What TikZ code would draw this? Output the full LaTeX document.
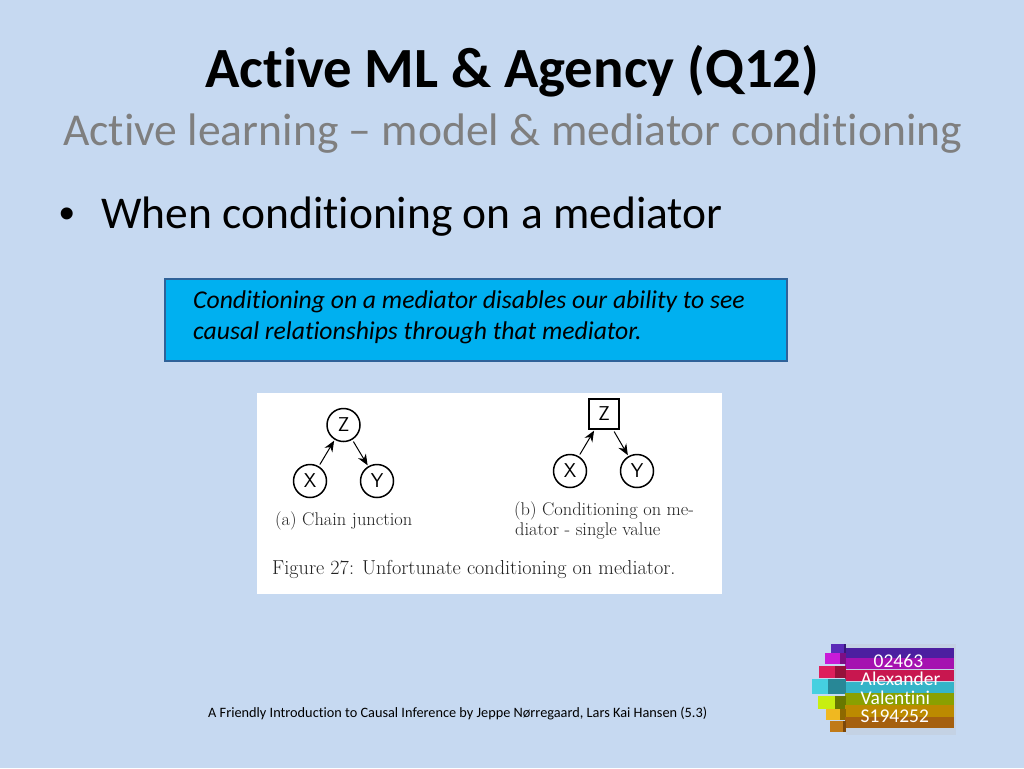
\documentclass[tikz,border=0pt]{standalone}
\usepackage{fontspec}
\setmainfont[RawFeature={-liga}]{Carlito}
\usepackage{xcolor}
\usetikzlibrary{arrows.meta}
\definecolor{slidebg}{HTML}{C6D9F1}
\definecolor{calloutfill}{HTML}{00B0F0}
\definecolor{calloutline}{HTML}{2F6299}
\definecolor{subgrey}{HTML}{7F7F7F}
\definecolor{figtext}{HTML}{222222}
\tikzset{
  slidetext/.style={inner sep=0pt,anchor=base west},
  causal/.style={circle,draw=black,line width=1.5pt,minimum size=33pt,inner sep=0pt,fill=white,font=\fontsize{20}{20}\sffamily},
  given/.style={rectangle,draw=black,line width=1.6pt,minimum size=30pt,inner sep=0pt,fill=white,font=\fontsize{20}{20}\sffamily},
  figlabel/.style={inner sep=0pt,anchor=base west,text=figtext,font=\fontsize{18.4}{18.4}\fontspec{Latin Modern Roman}},
  arc/.style={-{Stealth[length=11pt,width=9pt]},line width=1pt,black,shorten >=1pt,shorten <=2pt},
  logotext/.style={inner sep=0pt,anchor=base west,text=white,font=\fontsize{19.5}{19.5}\selectfont}
}
\begin{document}
\begin{tikzpicture}[x=1pt,y=-1pt]

  \fill[slidebg] (0,0) rectangle (1024,768);
  \useasboundingbox (0,0) rectangle (1024,768);

  % heading
  \node[slidetext,font=\fontsize{56.8}{56.8}\selectfont\bfseries] (title) at (205,87) {Active ML \& Agency (Q12)};
  \node[slidetext,font=\fontsize{45.6}{45.6}\selectfont,text=subgrey] (subtitle) at (63,145) {Active learning – model \& mediator conditioning};
  \node[slidetext,font=\fontsize{44}{44}\fontspec{Liberation Sans}] (bullet) at (59,228) {•};
  \node[slidetext,font=\fontsize{45.5}{45.5}\selectfont] (point) at (101,228) {When conditioning on a mediator};

  % callout
  \filldraw[fill=calloutfill,draw=calloutline,line width=2.2pt] (165,279) rectangle (787,361);
  \node[slidetext,font=\fontsize{25.65}{25.65}\selectfont\itshape] (line1) at (193,308) {Conditioning on a mediator disables our ability to see};
  \node[slidetext,font=\fontsize{25.65}{25.65}\selectfont\itshape] (line2) at (193,339) {causal relationships through that mediator.};

  % figure
  \fill[white] (257,393) rectangle (722,594);
  \node[causal] (za) at (343.5,425) {Z};
  \node[causal] (xa) at (310,481) {X};
  \node[causal] (ya) at (377,481) {Y};
  \draw[arc] (xa) -- (za);
  \draw[arc] (za) -- (ya);
  \node[figlabel] (capa) at (275,525) {(a) Chain junction};

  \node[given] (zb) at (604,414) {Z};
  \node[causal] (xb) at (570,471) {X};
  \node[causal] (yb) at (637,471) {Y};
  \draw[arc] (xb) -- (zb);
  \draw[arc] (zb) -- (yb);
  \node[figlabel] (capb1) at (514,515) {(b) Conditioning on me-};
  \node[figlabel] (capb2) at (515,535.5) {diator - single value};
  \node[figlabel,font=\fontsize{20.2}{20.2}\fontspec{Latin Modern Roman}] (capfig) at (272,574) {Figure 27: Unfortunate conditioning on mediator.};

  % source
  \node[slidetext,font=\fontsize{14.3}{14.3}\selectfont] (source) at (208,717) {A Friendly Introduction to Causal Inference by Jeppe Nørregaard, Lars Kai Hansen (5.3)};

  % logo
  \fill[black!25,opacity=.25] (846,644) rectangle (956,735);
  \foreach \ya/\yb/\xa/\xb/\yc/\yd/\colb/\colc in {
    648/658/831/844/644/654/4B1FA0/5A2AB8,
    658/669/825/840/653/664/A512B0/C81BD8,
    670/681/819/835/666/678/C8174F/DE1F5C,
    682/693/812/828/679/694/35B4C8/45D0E0,
    693/705/818/835/696/709/8AA000/C8EE10,
    705/717/826/840/709/720/BC8A00/F0B820,
    717/728/830/843/721/732/A5600F/C07A18} {
    \definecolor{barcol}{HTML}{\colb}
    \definecolor{cubecol}{HTML}{\colc}
    \fill[barcol] (845,\ya) rectangle (954,\yb);
    \fill[barcol!75!black] (\xb,\yc) rectangle (846,\yd);
    \fill[cubecol] (\xa,\yc) rectangle (\xb,\yd);
  }
  \node[logotext] (course) at (873.5,667.5) {02463};
  \node[logotext] (first) at (860.5,685.5) {Alexander};
  \node[logotext] (last) at (860.5,704) {Valentini};
  \node[logotext] (sid) at (860.5,722) {S194252};

\end{tikzpicture}
\end{document}
